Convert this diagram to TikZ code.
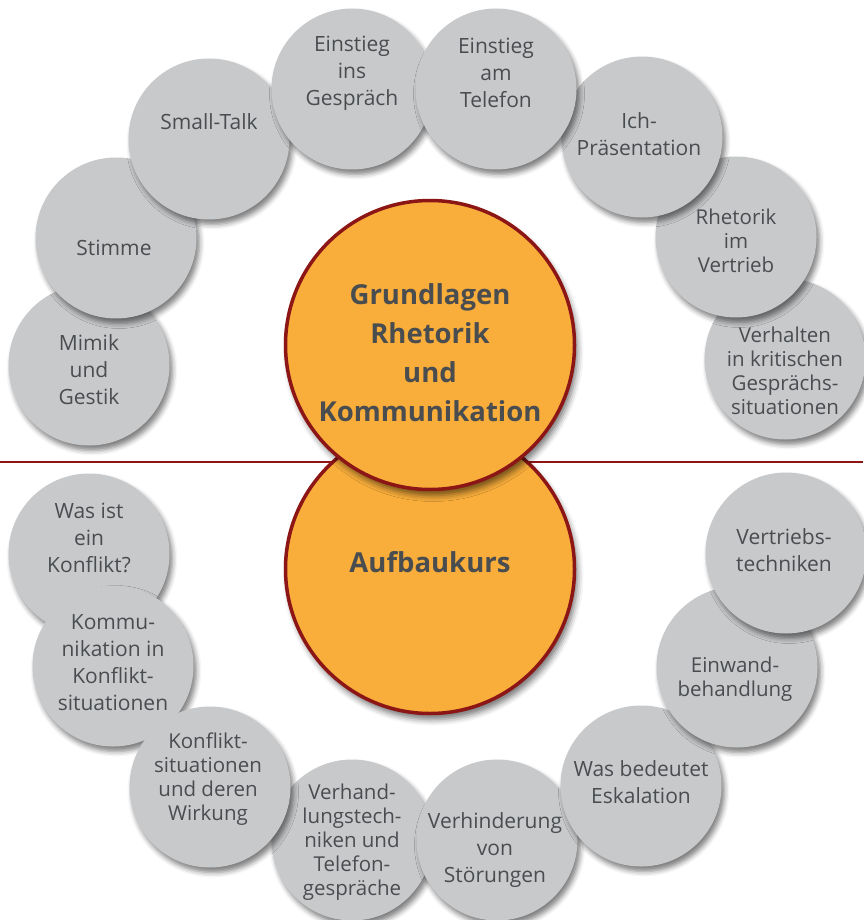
\documentclass[tikz,border=0pt]{standalone}
\usepackage{fontspec}
\setmainfont{Open Sans}
\usetikzlibrary{calc,shadows.blur}

\definecolor{bubblegray}{HTML}{C8C9CB}
\definecolor{coreorange}{HTML}{F9AE3B}
\definecolor{corered}{HTML}{8C1515}
\definecolor{inkgray}{HTML}{4A4D50}

\tikzset{
  bubble/.style={circle,fill=bubblegray,minimum size=161pt,inner sep=0pt,
    blur shadow={shadow xshift=3pt,shadow yshift=-5pt,shadow blur radius=5pt,shadow opacity=50}},
  bubbletext/.style={text=inkgray,align=center,inner sep=0pt,font=\fontsize{21}{27}\selectfont},
  tighttext/.style={bubbletext,font=\fontsize{20.5}{24}\selectfont},
  core/.style={circle,fill=coreorange,draw=corered,line width=3.5pt,minimum size=289pt,inner sep=0pt,
    blur shadow={shadow xshift=3pt,shadow yshift=-6pt,shadow blur radius=6pt,shadow opacity=55}},
  coretext/.style={text=inkgray,align=center,inner sep=0pt,font=\fontsize{27.5}{39}\selectfont\bfseries},
  divider/.style={corered,line width=2pt}
}

\begin{document}
\begin{tikzpicture}[x=1pt,y=-1pt]
\useasboundingbox (0,0) rectangle (863,920);

% Dividing line
\coordinate (lineL) at (0,462);
\coordinate (lineR) at (863,462);
\draw[divider] (lineL) -- (lineR);

% Course circles
\node[core] (aufbau) at (430,569) {};
\node[coretext] (aufbau-t) at ($(aufbau)+(0,-7)$) {Aufbaukurs};
\node[core] (grundlagen) at (430,345) {};
\node[coretext] (grundlagen-t) at ($(grundlagen)+(0,8)$) {Grundlagen\\Rhetorik\\und\\Kommunikation};

% Topic circles, upper half
\node[bubble] (mimik) at (89,365) {};
\node[bubble] (verhalten) at (785,359) {};
\node[bubble] (stimme) at (116,238) {};
\node[bubble] (rhetorik) at (736,237) {};
\node[bubble] (smalltalk) at (209,139) {};
\node[bubble] (ich) at (642,137) {};
\node[bubble] (gespraech) at (352,89) {};
\node[bubble] (telefon) at (496,89) {};

% Topic circles, lower half
\node[bubble] (konflikt) at (89,554) {};
\node[bubble] (kommunikation) at (113,666) {};
\node[bubble] (verhandlung) at (352,840) {};
\node[bubble] (wirkung) at (210,787) {};
\node[bubble] (stoerung) at (497,840) {};
\node[bubble] (eskalation) at (641,786) {};
\node[bubble] (einwand) at (737,667) {};
\node[bubble] (vertrieb) at (786,553) {};

% Topic labels
\node[bubbletext] (mimik-t) at ($(mimik)+(0,5)$) {Mimik\\und\\Gestik};
\node[tighttext] (verhalten-t) at ($(verhalten)+(0,12)$) {Verhalten\\in kritischen\\Gesprächs-\\situationen};
\node[bubbletext] (stimme-t) at ($(stimme)+(-2,10)$) {Stimme};
\node[tighttext] (rhetorik-t) at ($(rhetorik)+(0,4)$) {Rhetorik\\im\\Vertrieb};
\node[bubbletext] (smalltalk-t) at ($(smalltalk)+(0,-17)$) {Small-Talk};
\node[bubbletext] (ich-t) at ($(ich)+(-3,-3)$) {Ich-\\Präsentation};
\node[bubbletext] (gespraech-t) at ($(gespraech)+(0,-16)$) {Einstieg\\ins\\Gespräch};
\node[bubbletext] (telefon-t) at ($(telefon)+(0,-16)$) {Einstieg\\am\\Telefon};
\node[bubbletext] (konflikt-t) at ($(konflikt)+(0,-16)$) {Was ist\\ein\\Konflikt?};
\node[bubbletext] (kommunikation-t) at ($(kommunikation)+(0,-3)$) {Kommu-\\nikation in\\Konflikt-\\situationen};
\node[tighttext] (wirkung-t) at ($(wirkung)+(-2,-8)$) {Konflikt-\\situationen\\und deren\\Wirkung};
\node[tighttext] (verhandlung-t) at ($(verhandlung)+(0,2)$) {Verhand-\\lungstech-\\niken und\\Telefon-\\gespräche};
\node[bubbletext] (stoerung-t) at ($(stoerung)+(-2,10)$) {Verhinderung\\von\\Störungen};
\node[bubbletext] (eskalation-t) at ($(eskalation)+(0,-4)$) {Was bedeutet\\Eskalation};
\node[tighttext] (einwand-t) at ($(einwand)+(-2,12)$) {Einwand-\\behandlung};
\node[bubbletext] (vertrieb-t) at ($(vertrieb)+(-2,-3)$) {Vertriebs-\\techniken};
\end{tikzpicture}
\end{document}
